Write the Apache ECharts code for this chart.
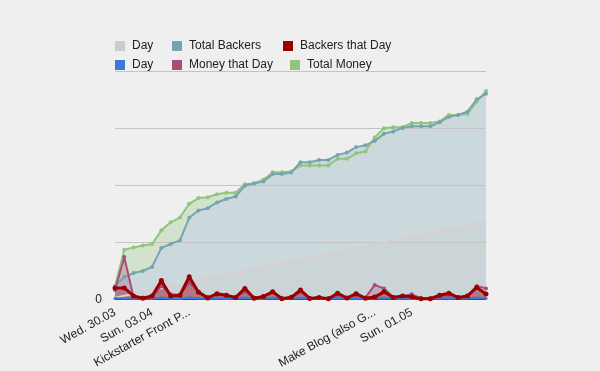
<!DOCTYPE html>
<html>
<head>
<meta charset="utf-8">
<script src="https://cdn.jsdelivr.net/npm/echarts@6/dist/echarts.min.js"></script>
<style>
html,body{margin:0;padding:0;background:#efefef;}
#c{width:600px;height:371px;}
</style>
</head>
<body>
<div id="c"></div>
<script>
const categories = [
  'Wed. 30.03','Thu. 31.03','Fri. 01.04','Sat. 02.04','Sun. 03.04','Mon. 04.04','Tue. 05.04','Wed. 06.04',
  'Kickstarter Front P...','Fri. 08.04','Sat. 09.04','Sun. 10.04','Mon. 11.04','Tue. 12.04','Wed. 13.04',
  'Thu. 14.04','Fri. 15.04','Sat. 16.04','Sun. 17.04','Mon. 18.04','Tue. 19.04','Wed. 20.04','Thu. 21.04',
  'Fri. 22.04','Sat. 23.04','Sun. 24.04','Mon. 25.04','Tue. 26.04','Make Blog (also G...','Thu. 28.04',
  'Fri. 29.04','Sat. 30.04','Sun. 01.05','Mon. 02.05','Tue. 03.05','Wed. 04.05','Thu. 05.05','Fri. 06.05',
  'Sat. 07.05','Sun. 08.05','Mon. 09.05'
];
const shownLabelIndex = [0, 4, 8, 28, 32];

// day counter (own hidden scale)
const dayCount = [1,2,3,4,5,6,7,8,9,10,11,12,13,14,15,16,17,18,19,20,21,22,23,24,25,26,27,28,29,30,31,32,33,34,35,36,37,38,39,40,41];
const totalBackers = [5.8,9.9,11.6,12.5,14.3,22.6,24.3,25.9,35.8,39.0,40.0,42.5,44.0,45.1,49.8,50.8,51.7,54.9,54.9,55.6,
  60.1,60.1,61.1,61.1,63.3,64.3,66.7,67.5,69.4,72.5,73.5,75.1,75.8,75.8,75.8,77.6,79.9,80.8,82.2,87.6,90.0];
const totalMoney = [5.8,21.8,22.8,23.7,24.3,30.3,33.8,35.9,41.9,44.4,44.8,46.1,46.7,46.7,50.5,50.9,52.4,55.7,55.7,56.0,
  58.7,58.7,58.7,58.7,61.6,61.6,64.0,64.8,70.9,75.0,75.4,75.4,77.3,77.3,77.3,77.9,80.8,80.8,81.2,86.6,91.3];
const backersThatDay = [5.1,5.1,1.6,0.6,1.6,8.3,1.6,1.9,10.0,3.2,0.7,2.6,1.9,0.9,4.9,0.6,1.4,3.4,0.4,1.0,
  4.2,0.5,0.9,0.4,2.8,0.7,2.6,0.6,1.1,3.4,0.9,1.6,1.2,0.4,0.4,1.9,2.8,0.9,1.6,5.3,2.4];
const moneyThatDay = [4.2,18.6,1.0,0.8,1.0,6.0,2.3,2.0,7.4,3.5,1.2,2.0,1.6,0.9,3.5,0.8,1.0,3.1,0.6,0.8,
  3.1,0.6,0.9,0.6,2.0,0.6,2.0,0.9,6.4,4.9,1.1,1.5,2.3,0.6,0.6,1.1,2.0,0.9,1.1,6.0,4.9];
const dayBlue = [0.6,0.6,0.5,0.5,0.5,0.8,0.5,0.5,0.9,0.6,0.5,0.6,0.5,0.5,0.8,0.5,0.5,0.7,0.5,0.5,
  0.7,0.5,0.5,0.5,0.6,0.5,0.6,0.5,0.6,0.7,0.5,0.6,0.5,0.5,0.5,0.6,0.6,0.5,0.6,0.8,0.6];

const C = {
  day: '#cccccc', backers: '#76a5af', backersDay: '#990000',
  dayBlue: '#3c78d8', moneyDay: '#a64d79', money: '#93c47d'
};

function fill(name, data, color, opacity, z, yAxisIndex) {
  return {
    name, type: 'line', data, yAxisIndex: yAxisIndex || 0, z,
    showSymbol: false, symbol: 'none', silent: true,
    lineStyle: { width: 0, opacity: 0 },
    itemStyle: { color },
    areaStyle: { color, opacity },
    emphasis: { disabled: true }
  };
}
function line(name, data, color, width, symbolSize, z, yAxisIndex, lineColor) {
  return {
    name, type: 'line', data, yAxisIndex: yAxisIndex || 0, z,
    symbol: symbolSize ? 'circle' : 'none', symbolSize: symbolSize || 0,
    showSymbol: !!symbolSize, silent: true,
    itemStyle: { color },
    lineStyle: { width, color: lineColor || color },
    emphasis: { disabled: true }
  };
}

const legendFont = { fontFamily: 'Liberation Sans, Arial, sans-serif', fontSize: 12, color: '#222', padding: [0,0,0,2] };
function leg(name, color, left, top) {
  return {
    left, top, padding: 0, itemWidth: 10, itemHeight: 10, icon: 'rect', selectedMode: false,
    formatter: n => n.trim(),
    textStyle: legendFont,
    data: [{ name, icon: 'rect', itemStyle: { color } }]
  };
}

const option = {
  backgroundColor: '#efefef',
  animation: false,
  legend: [
    leg('Day', C.day, 115, 40),
    leg('Total Backers', C.backers, 172, 40),
    leg('Backers that Day', C.backersDay, 283, 40),
    leg('Day ', C.dayBlue, 115, 59),
    leg('Money that Day', C.moneyDay, 172, 59),
    leg('Total Money', C.money, 290, 59)
  ],
  grid: { left: 115, right: 114, top: 71, bottom: 71 },
  xAxis: {
    type: 'category', data: categories, boundaryGap: false, z: 6,
    axisLine: { lineStyle: { color: '#444', width: 1 } },
    axisTick: { show: false },
    axisLabel: {
      rotate: 29, margin: 12, fontSize: 12, color: '#222',
      fontFamily: 'Liberation Sans, Arial, sans-serif',
      interval: (i) => shownLabelIndex.includes(i)
    },
    splitLine: { show: false }
  },
  yAxis: [
    {
      type: 'value', min: 0, max: 100, interval: 25, z: 4,
      axisLine: { show: false }, axisTick: { show: false },
      axisLabel: { margin: 13, fontSize: 12, color: '#222', fontFamily: 'Liberation Sans, Arial, sans-serif',
        formatter: v => (v === 0 ? '0' : '') },
      splitLine: { lineStyle: { color: '#c4c4c4', width: 1 } }
    },
    { type: 'value', min: 0, max: 120, show: false, splitLine: { show: false } }
  ],
  series: [
    fill('Total Money', totalMoney, C.money, 0.3, 1),
    fill('Total Backers', totalBackers, '#cbd9dc', 1, 2),
    fill('Day', dayCount, C.day, 0.3, 3, 1),
    fill('Money that Day', moneyThatDay, C.moneyDay, 0.3, 3),
    fill('Backers that Day', backersThatDay, C.backersDay, 0.3, 3),
    fill('Day ', dayBlue, C.dayBlue, 0.3, 3),
    line('Day', dayCount, C.day, 2, 0, 5, 1, '#d8cfd1'),
    line('Total Money', totalMoney, C.money, 2, 4, 6),
    line('Total Backers', totalBackers, C.backers, 2, 4, 7),
    line('Day ', dayBlue, C.dayBlue, 2, 3, 8),
    line('Money that Day', moneyThatDay, C.moneyDay, 2, 4, 9),
    line('Backers that Day', backersThatDay, C.backersDay, 3, 5, 10)
  ]
};
const chart = echarts.init(document.getElementById('c'), null, { renderer: 'canvas' });
chart.setOption(option);
</script>
</body>
</html>
